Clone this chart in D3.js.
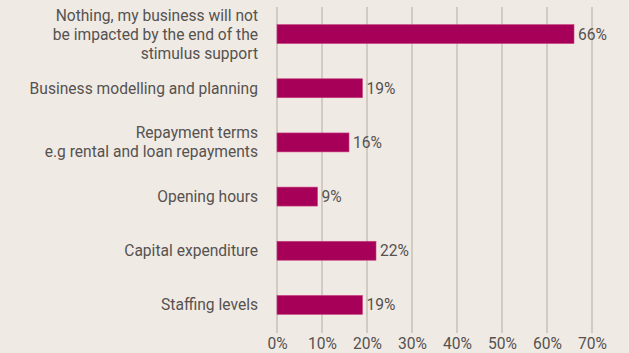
<!DOCTYPE html>
<html>
<head>
<meta charset="utf-8">
<script src="https://cdn.jsdelivr.net/npm/d3@7"></script>
<style>
  html, body { margin: 0; padding: 0; background: #f0eae4; }
  svg { display: block; }
  text { font-family: Roboto, "Noto Sans", sans-serif; fill: #555250; }
</style>
</head>
<body>
<svg id="chart" width="629" height="353"></svg>
<script>
// Survey responses: impact on the business when stimulus support ends
const categories = [
  ["Nothing, my business will not", "be impacted by the end of the", "stimulus support"],
  ["Business modelling and planning"],
  ["Repayment terms", "e.g rental and loan repayments"],
  ["Opening hours"],
  ["Capital expenditure"],
  ["Staffing levels"]
];
const values = [66, 19, 16, 9, 22, 19];
const tickValues = [0, 10, 20, 30, 40, 50, 60, 70];

const svg = d3.select("#chart");
const margin = { top: 7, right: 37, bottom: 21, left: 277 };
const W = 629, H = 353;
const fontSize = "15.6px";

const x = d3.scaleLinear().domain([0, 70]).range([margin.left, W - margin.right]);
const y = d3.scaleBand()
  .domain(d3.range(categories.length))
  .range([margin.top, H - margin.bottom])
  .paddingInner(0.65)
  .paddingOuter(0.325);

// vertical gridlines
svg.append("g")
  .selectAll("line")
  .data(tickValues)
  .join("line")
  .attr("x1", d => x(d)).attr("x2", d => x(d))
  .attr("y1", margin.top).attr("y2", H - margin.bottom + 1)
  .attr("stroke", "#bdb6ae")
  .attr("stroke-width", 1.2);

// bottom axis labels
const xAxis = d3.axisBottom(x)
  .tickValues(tickValues)
  .tickFormat(d => d + "%")
  .tickSize(0)
  .tickPadding(0);
const gx = svg.append("g")
  .attr("transform", `translate(0,${H - 9})`)
  .call(xAxis);
gx.select(".domain").remove();
gx.selectAll("text")
  .attr("dy", "0.35em")
  .attr("y", 0)
  .style("font-size", fontSize)
  .style("font-family", "Roboto, sans-serif")
  .style("fill", "#555250");

// bars
svg.append("g")
  .selectAll("rect")
  .data(values)
  .join("rect")
  .attr("x", x(0))
  .attr("y", (d, i) => y(i))
  .attr("width", d => x(d) - x(0))
  .attr("height", y.bandwidth())
  .attr("fill", "#a60058")
  .attr("stroke", "#c9407f")
  .attr("stroke-width", 0.6);

// value labels
svg.append("g")
  .selectAll("text")
  .data(values)
  .join("text")
  .attr("x", d => x(d) + 4)
  .attr("y", (d, i) => y(i) + y.bandwidth() / 2)
  .attr("dy", "0.35em")
  .style("font-size", fontSize)
  .text(d => d + "%");

// category labels (multi-line, right aligned)
const lineH = 19;
const cat = svg.append("g")
  .selectAll("text")
  .data(categories)
  .join("text")
  .attr("text-anchor", "end")
  .style("font-size", fontSize)
  .attr("transform", (d, i) => {
    const cy = y(i) + y.bandwidth() / 2;
    return `translate(258,${cy - (d.length - 1) * lineH / 2})`;
  });
cat.selectAll("tspan")
  .data(d => d)
  .join("tspan")
  .attr("x", 0)
  .attr("y", (d, j) => j * lineH)
  .attr("dy", "0.35em")
  .text(d => d);
</script>
</body>
</html>
